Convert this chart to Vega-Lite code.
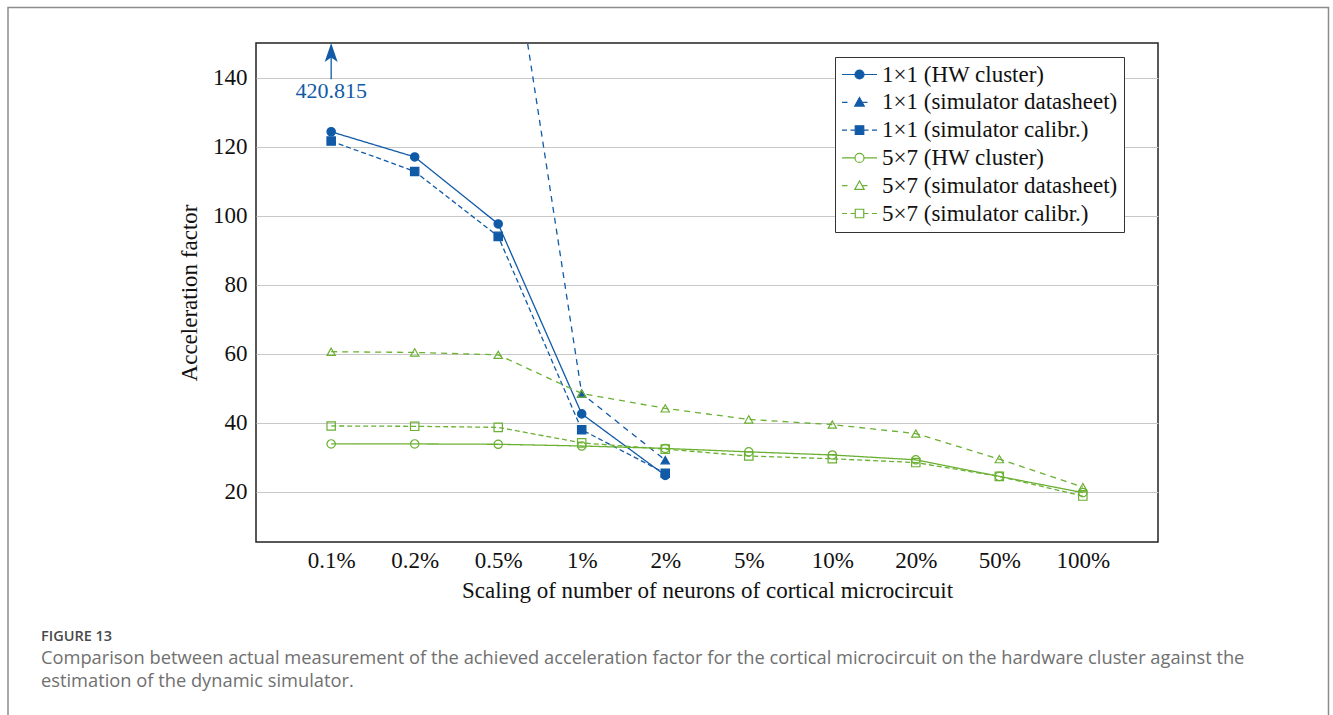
{
  "$schema": "https://vega.github.io/schema/vega-lite/v6.json",
  "width": 902,
  "height": 499,
  "autosize": {"type": "none"},
  "padding": {"left": 256, "top": 43, "right": 175, "bottom": 173},
  "background": "white",
  "config": {
    "view": {"stroke": "#222222", "strokeWidth": 1.5},
    "font": "Liberation Serif",
    "legend": {
      "title": null,
      "orient": "none",
      "legendX": 579,
      "legendY": 14,
      "padding": 6,
      "symbolSize": 100,
      "symbolOffset": 7,
      "labelOffset": 11,
      "rowPadding": 3.8,
      "labelFont": "Liberation Serif",
      "labelFontSize": 23,
      "labelColor": "#111111",
      "labelLimit": 400,
      "strokeColor": "#333333",
      "fillColor": "white",
      "symbolStrokeWidth": 1.2,
      "symbolOpacity": 1
    }
  },
  "title": {
    "text": "FIGURE 13",
    "subtitle": [
      "Comparison between actual measurement of the achieved acceleration factor for the cortical microcircuit on the hardware cluster against the",
      "estimation of the dynamic simulator."
    ],
    "orient": "bottom",
    "anchor": "start",
    "frame": "group",
    "dx": -215,
    "offset": -94,
    "font": "Open Sans",
    "fontSize": 14.5,
    "fontWeight": 600,
    "color": "#4a4a4a",
    "subtitleFont": "Open Sans",
    "subtitleFontSize": 18.3,
    "subtitleColor": "#707070",
    "subtitleLineHeight": 23,
    "subtitlePadding": 6
  },
  "data": {
    "values": [
      {"scale": "0.1%", "series": "1×1 (HW cluster)", "value": 124.3},
      {"scale": "0.2%", "series": "1×1 (HW cluster)", "value": 117.0},
      {"scale": "0.5%", "series": "1×1 (HW cluster)", "value": 97.6},
      {"scale": "1%", "series": "1×1 (HW cluster)", "value": 42.6},
      {"scale": "2%", "series": "1×1 (HW cluster)", "value": 24.8},

      {"scale": "0.1%", "series": "1×1 (simulator datasheet)", "value": 420.815},
      {"scale": "0.2%", "series": "1×1 (simulator datasheet)", "value": 300.0},
      {"scale": "0.5%", "series": "1×1 (simulator datasheet)", "value": 205.0},
      {"scale": "1%", "series": "1×1 (simulator datasheet)", "value": 48.5},
      {"scale": "2%", "series": "1×1 (simulator datasheet)", "value": 29.2},

      {"scale": "0.1%", "series": "1×1 (simulator calibr.)", "value": 121.6},
      {"scale": "0.2%", "series": "1×1 (simulator calibr.)", "value": 112.8},
      {"scale": "0.5%", "series": "1×1 (simulator calibr.)", "value": 94.0},
      {"scale": "1%", "series": "1×1 (simulator calibr.)", "value": 38.0},
      {"scale": "2%", "series": "1×1 (simulator calibr.)", "value": 25.4},

      {"scale": "0.1%", "series": "5×7 (HW cluster)", "value": 33.9},
      {"scale": "0.2%", "series": "5×7 (HW cluster)", "value": 33.9},
      {"scale": "0.5%", "series": "5×7 (HW cluster)", "value": 33.8},
      {"scale": "1%", "series": "5×7 (HW cluster)", "value": 33.3},
      {"scale": "2%", "series": "5×7 (HW cluster)", "value": 32.6},
      {"scale": "5%", "series": "5×7 (HW cluster)", "value": 31.6},
      {"scale": "10%", "series": "5×7 (HW cluster)", "value": 30.7},
      {"scale": "20%", "series": "5×7 (HW cluster)", "value": 29.3},
      {"scale": "50%", "series": "5×7 (HW cluster)", "value": 24.5},
      {"scale": "100%", "series": "5×7 (HW cluster)", "value": 19.8},

      {"scale": "0.1%", "series": "5×7 (simulator datasheet)", "value": 60.6},
      {"scale": "0.2%", "series": "5×7 (simulator datasheet)", "value": 60.4},
      {"scale": "0.5%", "series": "5×7 (simulator datasheet)", "value": 59.7},
      {"scale": "1%", "series": "5×7 (simulator datasheet)", "value": 48.5},
      {"scale": "2%", "series": "5×7 (simulator datasheet)", "value": 44.2},
      {"scale": "5%", "series": "5×7 (simulator datasheet)", "value": 41.0},
      {"scale": "10%", "series": "5×7 (simulator datasheet)", "value": 39.5},
      {"scale": "20%", "series": "5×7 (simulator datasheet)", "value": 36.9},
      {"scale": "50%", "series": "5×7 (simulator datasheet)", "value": 29.5},
      {"scale": "100%", "series": "5×7 (simulator datasheet)", "value": 21.4},

      {"scale": "0.1%", "series": "5×7 (simulator calibr.)", "value": 39.1},
      {"scale": "0.2%", "series": "5×7 (simulator calibr.)", "value": 39.0},
      {"scale": "0.5%", "series": "5×7 (simulator calibr.)", "value": 38.7},
      {"scale": "1%", "series": "5×7 (simulator calibr.)", "value": 34.2},
      {"scale": "2%", "series": "5×7 (simulator calibr.)", "value": 32.4},
      {"scale": "5%", "series": "5×7 (simulator calibr.)", "value": 30.4},
      {"scale": "10%", "series": "5×7 (simulator calibr.)", "value": 29.6},
      {"scale": "20%", "series": "5×7 (simulator calibr.)", "value": 28.5},
      {"scale": "50%", "series": "5×7 (simulator calibr.)", "value": 24.5},
      {"scale": "100%", "series": "5×7 (simulator calibr.)", "value": 18.8}
    ]
  },
  "encoding": {
    "x": {
      "field": "scale",
      "type": "ordinal",
      "sort": ["0.1%", "0.2%", "0.5%", "1%", "2%", "5%", "10%", "20%", "50%", "100%"],
      "scale": {"type": "point", "padding": 0.9},
      "axis": {
        "title": "Scaling of number of neurons of cortical microcircuit",
        "labelAngle": 0,
        "ticks": false,
        "domain": false,
        "grid": false,
        "labelPadding": 7,
        "titlePadding": 7,
        "labelFont": "Liberation Serif",
        "labelFontSize": 23,
        "labelColor": "#111111",
        "titleFont": "Liberation Serif",
        "titleFontSize": 23,
        "titleFontWeight": "normal",
        "titleColor": "#111111"
      }
    },
    "y": {
      "field": "value",
      "type": "quantitative",
      "scale": {"domain": [5.5, 150], "nice": false, "zero": false},
      "axis": {
        "title": "Acceleration factor",
        "values": [20, 40, 60, 80, 100, 120, 140],
        "grid": true,
        "gridColor": "#c8c8c8",
        "gridWidth": 1,
        "ticks": false,
        "domain": false,
        "labelPadding": 9,
        "titlePadding": 11,
        "labelFont": "Liberation Serif",
        "labelFontSize": 23,
        "labelColor": "#111111",
        "titleFont": "Liberation Serif",
        "titleFontSize": 23,
        "titleFontWeight": "normal",
        "titleColor": "#111111"
      }
    }
  },
  "layer": [
    {
      "data": {"values": [{}]},
      "mark": {"type": "rect", "fillOpacity": 0, "stroke": "#8c8c8c", "strokeWidth": 1.5},
      "encoding": {
        "x": {"value": -248},
        "x2": {"value": 1072.5},
        "y": {"value": -35.5},
        "y2": {"value": 680}
      }
    },
    {
      "mark": {"type": "line", "clip": true, "strokeWidth": 1.3},
      "encoding": {
        "color": {
          "field": "series",
          "type": "nominal",
          "scale": {
            "domain": ["1×1 (HW cluster)", "1×1 (simulator datasheet)", "1×1 (simulator calibr.)", "5×7 (HW cluster)", "5×7 (simulator datasheet)", "5×7 (simulator calibr.)"],
            "range": ["#115aa6", "#115aa6", "#115aa6", "#6ab032", "#6ab032", "#6ab032"]
          },
          "legend": null
        },
        "strokeDash": {
          "field": "series",
          "type": "nominal",
          "scale": {
            "domain": ["1×1 (HW cluster)", "1×1 (simulator datasheet)", "1×1 (simulator calibr.)", "5×7 (HW cluster)", "5×7 (simulator datasheet)", "5×7 (simulator calibr.)"],
            "range": [[1, 0], [6, 5], [5, 3], [1, 0], [6, 5], [5, 3]]
          },
          "legend": null
        }
      }
    },
    {
      "mark": {"type": "point", "clip": true, "size": 70, "strokeWidth": 1.2, "opacity": 1},
      "encoding": {
        "shape": {
          "field": "series",
          "type": "nominal",
          "scale": {
            "domain": ["1×1 (HW cluster)", "1×1 (simulator datasheet)", "1×1 (simulator calibr.)", "5×7 (HW cluster)", "5×7 (simulator datasheet)", "5×7 (simulator calibr.)"],
            "range": ["circle", "triangle-up", "square", "circle", "triangle-up", "square"]
          },
          "legend": null
        },
        "stroke": {
          "field": "series",
          "type": "nominal",
          "scale": {
            "domain": ["1×1 (HW cluster)", "1×1 (simulator datasheet)", "1×1 (simulator calibr.)", "5×7 (HW cluster)", "5×7 (simulator datasheet)", "5×7 (simulator calibr.)"],
            "range": ["#115aa6", "#115aa6", "#115aa6", "#6ab032", "#6ab032", "#6ab032"]
          },
          "legend": null
        },
        "fill": {
          "field": "series",
          "type": "nominal",
          "scale": {
            "domain": ["1×1 (HW cluster)", "1×1 (simulator datasheet)", "1×1 (simulator calibr.)", "5×7 (HW cluster)", "5×7 (simulator datasheet)", "5×7 (simulator calibr.)"],
            "range": ["#115aa6", "#115aa6", "#115aa6", "transparent", "transparent", "transparent"]
          },
          "legend": null
        }
      }
    },
    {
      "transform": [{"filter": "datum.value < 0"}],
      "mark": {"type": "point", "size": 100, "strokeWidth": 1.2, "opacity": 1},
      "encoding": {
        "shape": {
          "field": "series",
          "type": "nominal",
          "scale": {
            "domain": ["1×1 (HW cluster)", "1×1 (simulator datasheet)", "1×1 (simulator calibr.)", "5×7 (HW cluster)", "5×7 (simulator datasheet)", "5×7 (simulator calibr.)"],
            "range": [
              "M-3.5,0H-0.9M0.9,0H3.5M0.9,0A0.9,0.9,0,1,1,-0.9,0A0.9,0.9,0,1,1,0.9,0Z",
              "M-3.5,0H-2.4M0.6,0H1.6M0,-0.95L0.95,0.75L-0.95,0.75Z",
              "M-3.5,0H-2.5M-1.8,0H-0.8M0.8,0H1.8M2.5,0H3.5M-0.85,-0.85H0.85V0.85H-0.85Z",
              "M-3.5,0H-0.9M0.9,0H3.5M0.9,0A0.9,0.9,0,1,1,-0.9,0A0.9,0.9,0,1,1,0.9,0Z",
              "M-3.5,0H-2.4M0.6,0H1.6M0,-0.95L0.95,0.75L-0.95,0.75Z",
              "M-3.5,0H-2.5M-1.8,0H-0.8M0.8,0H1.8M2.5,0H3.5M-0.85,-0.85H0.85V0.85H-0.85Z"
            ]
          }
        },
        "stroke": {
          "field": "series",
          "type": "nominal",
          "scale": {
            "domain": ["1×1 (HW cluster)", "1×1 (simulator datasheet)", "1×1 (simulator calibr.)", "5×7 (HW cluster)", "5×7 (simulator datasheet)", "5×7 (simulator calibr.)"],
            "range": ["#115aa6", "#115aa6", "#115aa6", "#6ab032", "#6ab032", "#6ab032"]
          }
        },
        "fill": {
          "field": "series",
          "type": "nominal",
          "scale": {
            "domain": ["1×1 (HW cluster)", "1×1 (simulator datasheet)", "1×1 (simulator calibr.)", "5×7 (HW cluster)", "5×7 (simulator datasheet)", "5×7 (simulator calibr.)"],
            "range": ["#115aa6", "#115aa6", "#115aa6", "transparent", "transparent", "transparent"]
          }
        }
      }
    },
    {
      "transform": [{"filter": "datum.series === '1×1 (simulator datasheet)' && datum.scale === '0.1%'"}],
      "mark": {"type": "rule", "color": "#115aa6", "strokeWidth": 1.3},
      "encoding": {
        "y": {"datum": 139.5},
        "y2": {"datum": 147}
      }
    },
    {
      "transform": [{"filter": "datum.series === '1×1 (simulator datasheet)' && datum.scale === '0.1%'"}],
      "mark": {"type": "point", "shape": "M0,-1L0.65,0.9L0,0.45L-0.65,0.9Z", "filled": true, "color": "#115aa6", "size": 400, "opacity": 1},
      "encoding": {
        "y": {"datum": 147.1}
      }
    },
    {
      "transform": [{"filter": "datum.series === '1×1 (simulator datasheet)' && datum.scale === '0.1%'"}],
      "mark": {"type": "text", "font": "Liberation Serif", "fontSize": 22, "color": "#115aa6", "baseline": "middle"},
      "encoding": {
        "y": {"datum": 136},
        "text": {"field": "value", "type": "quantitative", "format": ".3f"}
      }
    }
  ],
  "resolve": {
    "scale": {"shape": "independent", "fill": "independent", "stroke": "independent"}
  }
}
